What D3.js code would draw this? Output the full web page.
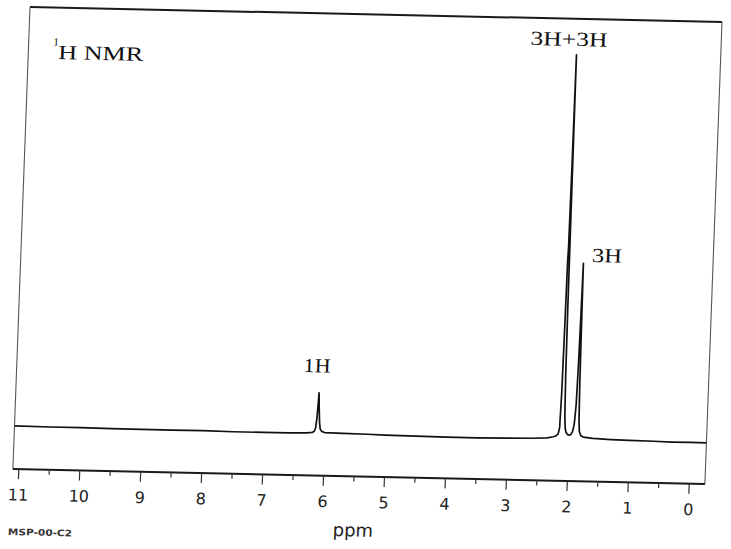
<!DOCTYPE html>
<html>
<head>
<meta charset="utf-8">
<script src="https://cdn.jsdelivr.net/npm/d3@7"></script>
<style>
  body { margin: 0; background: #fff; }
</style>
</head>
<body>
<svg id="chart" width="731" height="549"></svg>
<script>
// Spectrum trace: chemical shift (ppm) and relative intensity
const shift = [
  11.09, 10.5, 10, 9.5, 9, 8.5, 8, 7.5, 7, 6.6, 6.3, 6.2, 6.17, 6.15, 6.135, 6.122, 6.115,
  6.105, 6.09, 6.075, 6.05, 6.0, 5.7, 5.3, 5, 4.5, 4, 3.5, 3, 2.6, 2.35, 2.25, 2.2, 2.17,
  2.15, 2.137, 2.128, 2.12, 2.113, 2.106, 2.1, 2.095, 2.089, 2.082, 2.072, 2.06, 2.045, 2.02,
  1.99, 1.96, 1.935, 1.912, 1.893, 1.88, 1.869, 1.86, 1.853, 1.846, 1.837, 1.825, 1.80, 1.76,
  1.6, 1.3, 1, 0.6, 0.3, 0, -0.27
];
const intensity = [
  0.3, 0.2, 0.2, 0.1, 0.1, 0.1, 0.1, 0, 0, 0, 0.1, 0.3, 0.6, 1.5, 4, 8, 10.6,
  7, 3, 1.2, 0.6, 0.3, 0.2, 0.1, 0, -0.1, -0.2, -0.2, -0.1, 0, 0.2, 0.5, 0.8, 1.3,
  3, 12, 28, 46, 50, 72, 100, 66, 34, 16, 6, 3, 1.8, 1.2,
  1.0, 1.2, 2, 4, 9, 19, 33, 45.8, 29, 14, 5, 2, 1, 0.6,
  0.3, 0.1, 0, -0.1, -0.2, -0.2, -0.2
];

// Axis ticks (ppm)
const majorTicks = [11, 10, 9, 8, 7, 6, 5, 4, 3, 2, 1, 0];
const minorTicks = [10.5, 9.5, 8.5, 7.5, 6.5, 5.5, 4.5, 3.5, 2.5, 1.5, 0.5];

// Peak integrations
const peakLabels = ["3H+3H", "3H", "1H"];
const peakShift = [2.1, 1.86, 6.115];
const peakHeight = [100, 45.8, 10.6];

const plotWidth = 692;
const plotHeight = 462;

const svgEl = d3.select("#chart");

// the paper is slightly skewed on the scanner
const svg = svgEl
  .append("g")
  .attr("transform", "matrix(1, 0.0217, -0.037, 1, 30, 7)");

const xScale = d3.scaleLinear().domain([11, 0]).range([5.4, 675.8]);
const yScale = d3.scaleLinear().domain([0, 100]).range([420, 36]);

// Frame
svg.append("line")
  .attr("x1", 0).attr("y1", 0).attr("x2", plotWidth).attr("y2", 0)
  .attr("stroke", "#1a1a1a").attr("stroke-width", 2);
svg.append("line")
  .attr("x1", 0).attr("y1", 0).attr("x2", 0).attr("y2", plotHeight)
  .attr("stroke", "#555").attr("stroke-width", 1.1);
svg.append("line")
  .attr("x1", plotWidth).attr("y1", 0).attr("x2", plotWidth).attr("y2", plotHeight)
  .attr("stroke", "#555").attr("stroke-width", 1.1);
svg.append("line")
  .attr("x1", 0).attr("y1", plotHeight).attr("x2", plotWidth).attr("y2", plotHeight)
  .attr("stroke", "#1a1a1a").attr("stroke-width", 2);

// X axis
const axis = svg.append("g")
  .attr("transform", `translate(0,${plotHeight})`)
  .call(
    d3.axisBottom(xScale)
      .tickValues(majorTicks)
      .tickSize(10)
      .tickPadding(10)
      .tickFormat(d3.format("d"))
  );
axis.select(".domain").remove();
axis.selectAll(".tick line").attr("stroke", "#333").attr("stroke-width", 1.2);
axis.selectAll(".tick text")
  .attr("fill", "#222")
  .style("font-family", "DejaVu Sans, sans-serif")
  .style("font-size", "16px");

svg.append("g")
  .attr("transform", `translate(0,${plotHeight})`)
  .call(d3.axisBottom(xScale).tickValues(minorTicks).tickSize(5).tickFormat(""))
  .call((g) => g.select(".domain").remove())
  .selectAll(".tick line")
  .attr("stroke", "#333")
  .attr("stroke-width", 1.2);

svg.append("text")
  .attr("x", 342)
  .attr("y", 522)
  .attr("text-anchor", "middle")
  .attr("fill", "#222")
  .style("font-family", "DejaVu Sans, sans-serif")
  .style("font-size", "18px")
  .text("ppm");

svg.append("text")
  .attr("x", -2.6)
  .attr("y", 528)
  .attr("textLength", 64)
  .attr("lengthAdjust", "spacingAndGlyphs")
  .attr("fill", "#333")
  .style("font-family", "DejaVu Sans, sans-serif")
  .style("font-weight", "bold")
  .style("font-size", "9px")
  .text("MSP-00-C2");

// Spectrum
svg.append("clipPath")
  .attr("id", "plot-clip")
  .append("rect")
  .attr("width", plotWidth)
  .attr("height", plotHeight);

const line = d3.line()
  .x((d, i) => xScale(shift[i]))
  .y((d) => yScale(d));

svg.append("path")
  .datum(intensity)
  .attr("clip-path", "url(#plot-clip)")
  .attr("fill", "none")
  .attr("stroke", "#111")
  .attr("stroke-width", 1.7)
  .attr("stroke-linejoin", "round")
  .attr("d", line);

// Title
svg.append("text")
  .attr("x", 24.6)
  .attr("y", 38)
  .attr("fill", "#111")
  .style("font-family", "Liberation Serif, serif")
  .style("font-size", "11px")
  .text("1");
svg.append("text")
  .attr("x", 29.9)
  .attr("y", 51.3)
  .attr("textLength", 85)
  .attr("lengthAdjust", "spacingAndGlyphs")
  .attr("fill", "#111")
  .style("font-family", "Liberation Serif, serif")
  .style("font-size", "20px")
  .text("H NMR");

// Integration labels
const labelOffset = [[-46.6, -9], [8.4, -1.4], [-16.5, -20.6]];
const labelLength = [77, 30, 27];

svg.append("g")
  .selectAll("text")
  .data(peakLabels)
  .join("text")
  .attr("x", (d, i) => xScale(peakShift[i]) + labelOffset[i][0])
  .attr("y", (d, i) => yScale(peakHeight[i]) + labelOffset[i][1])
  .attr("textLength", (d, i) => labelLength[i])
  .attr("lengthAdjust", "spacingAndGlyphs")
  .attr("fill", "#111")
  .style("font-family", "Liberation Serif, serif")
  .style("font-size", "20px")
  .text((d) => d);
</script>
</body>
</html>
